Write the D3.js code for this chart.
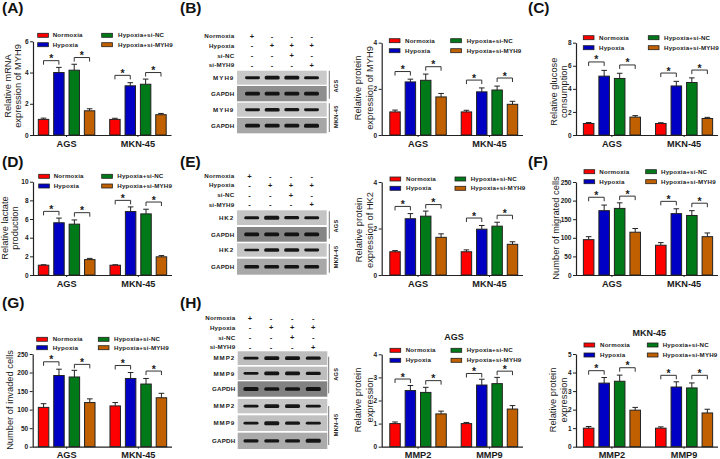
<!DOCTYPE html>
<html><head><meta charset="utf-8">
<script src="https://cdn.jsdelivr.net/npm/d3@7"></script>
<style>
html,body{margin:0;padding:0;background:#fff}
svg{display:block}
text{font-family:"Liberation Sans",Arial,sans-serif;fill:#1a1a1a}
</style></head><body>
<svg id="fig" width="720" height="459"></svg>
<script>
// ---------- shared labels ----------
const seriesNames = ["Normoxia","Hypoxia","Hypoxia+si-NC","Hypoxia+si-MYH9"];
const seriesColors = ["#ff0000","#0000c4","#007a18","#c06000"];
const cellLines = ["AGS","MKN-45"];
const proteins = ["MMP2","MMP9"];
const lightTicks4 = [0,2,4];
const ticks6 = [0,2,4,6];
const ticks8 = [0,2,4,6,8];
const ticks10 = [0,2,4,6,8,10];
const ticks250 = [0,50,100,150,200,250];
const ticks01234 = [0,1,2,3,4];
const ticks012345 = [0,1,2,3,4,5];

// ---------- bar values: [group1 x 4, group2 x 4] ----------
const mrnaValues = [1.0,4.0,4.15,1.55, 1.0,3.15,3.25,1.3];
const mrnaErrors = [.08,.33,.38,.13, .07,.2,.33,.08];
const mrnaBrackets = [4.76,4.96,3.82,4.0];

const myh9Values = [1.0,2.3,2.37,1.65, 1.0,1.87,1.95,1.33];
const myh9Errors = [.08,.12,.27,.15, .07,.17,.17,.13];
const myh9Brackets = [2.75,2.96,2.38,2.47];

const glucoseValues = [1.0,5.1,4.9,1.55, 1.0,4.25,4.55,1.43];
const glucoseErrors = [.08,.5,.45,.13, .06,.4,.4,.1];
const glucoseBrackets = [6.33,6.07,5.37,5.63];

const lactateValues = [1.05,5.6,5.45,1.65, 1.05,6.8,6.55,1.95];
const lactateErrors = [.05,.5,.45,.13, .05,.5,.5,.13];
const lactateBrackets = [6.82,6.68,8.0,7.82];

const hk2Values = [1.0,2.42,2.53,1.62, 1.0,1.97,2.1,1.32];
const hk2Errors = [.05,.22,.22,.15, .08,.16,.17,.11];
const hk2Brackets = [2.95,3.03,2.45,2.57];

const migratedValues = [95,173,179,115, 80,165,160,103];
const migratedErrors = [8,15,15,10, 7,13,13,10];
const migratedBrackets = [209,212,198,193];

const invadedValues = [106,192,188,119, 110,184,169,132];
const invadedErrors = [10,17,18,10, 9,16,15,12];
const invadedBrackets = [229,222,219,204];

const mmpAgsValues = [1.0,2.43,2.35,1.42, 1.0,2.67,2.73,1.63];
const mmpAgsErrors = [.07,.22,.22,.12, .05,.25,.27,.15];
const mmpAgsBrackets = [2.93,2.86,3.17,3.27];

const mmpMknValues = [1.0,3.43,3.53,1.97, 1.0,3.22,3.17,1.82];
const mmpMknErrors = [.09,.3,.33,.15, .07,.28,.27,.2];
const mmpMknBrackets = [4.1,4.26,3.85,3.85];

// ---------- blot tables ----------
const blotTreatments = ["Normoxia","Hypoxia","si-NC","si-MYH9"];
const blotSigns = [["+","-","-","-"],["-","+","+","+"],["-","-","+","-"],["-","-","-","+"]];
const blotB = [
 {name:"MYH9",bands:[.45,.8,.8,.5],tone:"#c9c9c9"},
 {name:"GAPDH",bands:[.8,.8,.8,.8],tone:"#8e8e8e"},
 {name:"MYH9",bands:[.45,.7,.6,.45],tone:"#c9c9c9"},
 {name:"GAPDH",bands:[.8,.8,.8,.85],tone:"#a6a6a6"}];
const blotE = [
 {name:"HK2",bands:[.5,.85,.65,.5],tone:"#c4c4c4"},
 {name:"GAPDH",bands:[.8,.7,.75,.75],tone:"#858585"},
 {name:"HK2",bands:[.4,.75,.65,.45],tone:"#c6c6c6"},
 {name:"GAPDH",bands:[.65,.7,.65,.7],tone:"#a8a8a8"}];
const blotH = [
 {name:"MMP2",bands:[.45,.8,.8,.55],tone:"#bdbdbd"},
 {name:"MMP9",bands:[.4,.75,.75,.55],tone:"#bdbdbd"},
 {name:"GAPDH",bands:[.8,.75,.75,.85],tone:"#828282"},
 {name:"MMP2",bands:[.4,.75,.7,.45],tone:"#c6c6c6"},
 {name:"MMP9",bands:[.4,.85,.65,.45],tone:"#c0c0c0"},
 {name:"GAPDH",bands:[.65,.65,.65,.85],tone:"#ababab"}];

// ---------- layout ----------
const panels = [
 {v:mrnaValues,e:mrnaErrors,b:mrnaBrackets,cats:cellLines,ticks:ticks6,ax:[33,171.5],band:[33,171.5],y:[41.3,135],lx:[37.7,101.7],lty:[35.3,44.7],tx:[52.7,118],yl:[["Relative mRNA",7.3],["expression of MYH9",18]],ylc:86},
 {v:myh9Values,e:myh9Errors,b:myh9Brackets,cats:cellLines,ticks:lightTicks4,ax:[381.7,523],band:[384.5,523],y:[42.7,135],lx:[389.3,450.7],lty:[40.7,50.7],tx:[405,466.7],yl:[["Relative protein",358],["expression of MYH9",369.5]],ylc:88},
 {v:glucoseValues,e:glucoseErrors,b:glucoseBrackets,cats:cellLines,ticks:ticks8,ax:[576,718],band:[578,718],y:[42.7,135],lx:[583.3,648.3],lty:[37.7,47.7],tx:[599,664],yl:[["Relative glucose",553.3],["consumption",564]],ylc:91.7},
 {v:lactateValues,e:lactateErrors,b:lactateBrackets,cats:cellLines,ticks:ticks10,ax:[33,172],band:[33,172],y:[181.7,275],lx:[38.7,101.7],lty:[176.3,186],tx:[53.7,117.3],yl:[["Relative lactate",4.5],["production",14.8]],ylc:228},
 {v:hk2Values,e:hk2Errors,b:hk2Brackets,cats:cellLines,ticks:lightTicks4,ax:[381.7,523],band:[384.5,523],y:[182,275],lx:[390,455],lty:[179,188.3],tx:[406,470.7],yl:[["Relative protein",358.3],["expression of HK2",369.5]],ylc:230},
 {v:migratedValues,e:migratedErrors,b:migratedBrackets,cats:cellLines,ticks:ticks250,ax:[576,718],band:[578,718],y:[182,275],lx:[584,645.7],lty:[171.7,181.7],tx:[599.3,661],yl:[["Number of migrated cells",555.7]],ylc:228},
 {v:invadedValues,e:invadedErrors,b:invadedBrackets,cats:cellLines,ticks:ticks250,ax:[32.7,172],band:[33,172],y:[354,446.7],lx:[36.7,98.3],lty:[339.3,347.7],tx:[52.7,114],yl:[["Number of invaded cells",10]],ylc:400},
 {v:mmpAgsValues,e:mmpAgsErrors,b:mmpAgsBrackets,cats:proteins,ticks:ticks01234,ax:[381.7,523],band:[384.5,523],y:[354.3,446.7],lx:[390,451],lty:[350.3,360.3],tx:[405.7,466.7],yl:[["Relative protein",358],["expression",370]],ylc:400,title:["AGS",454,336.7]},
 {v:mmpMknValues,e:mmpMknErrors,b:mmpMknBrackets,cats:proteins,ticks:ticks012345,ax:[576,718],band:[578,718],y:[354,446.7],lx:[584,647.3],lty:[345,355],tx:[600,662.7],yl:[["Relative protein",552.7],["expression",564]],ylc:400,title:["MKN-45",649.3,333.3]}
];
const blots = [
 {rows:blotB,x:[237,326.7],ry:[[70.7,84.7],[86,101.3],[102.7,116.7],[118,133.3]],lab:[36,45.7,55.7,65],right:234.3,lane:[252.5,311.5],signLane:[252,311.7],lines:[[70.7,98.7,"AGS",86],[103.3,132,"MKN-45",116.7]],lineX:329.3,tagX:335.7},
 {rows:blotE,x:[237,326.7],ry:[[210.3,225],[227,241.7],[243.3,256.7],[258.7,274.7]],lab:[176,185.3,195,204.7],right:234.3,lane:[251.7,311.7],signLane:[249.5,311.7],lines:[[211.3,238.7,"AGS",226],[244,272.7,"MKN-45",257]],lineX:329.3,tagX:335.7},
 {rows:blotH,x:[237.7,327.3],ry:[[351.3,365],[366.7,380],[381.3,396.7],[399,413.3],[415.3,431],[432.7,449]],lab:[318,327.7,337.7,347.3],right:235.3,lane:[251,313.3],signLane:[250,313.3],lines:[[356.7,393.3,"AGS",374.3],[406,445,"MKN-45",425]],lineX:328.7,tagX:335.7}
];
const panelLetters = [["(A)",2,7.7],["(B)",180,7.7],["(C)",528,7.7],["(D)",2,161.7],["(E)",180,161.7],["(F)",528,161.7],["(G)",2,302.5],["(H)",180,302.5]];

// ---------- drawing ----------
const svg = d3.select("#fig");
const defs = svg.append("defs");
defs.append("filter").attr("id","soft").attr("x","-20%").attr("y","-80%").attr("width","140%").attr("height","260%")
  .append("feGaussianBlur").attr("stdDeviation",0.7);
const ink = "#222";

panelLetters.forEach(([t,x,y])=>{
  svg.append("text").attr("x",x).attr("y",y).attr("dy","0.36em").attr("font-size",15.5).attr("font-weight",700).style("fill","#111").text(t);
});

function drawChart(p){
  const g = svg.append("g");
  const color = d3.scaleOrdinal(seriesNames,seriesColors);
  const x0 = d3.scaleBand().domain(p.cats).range(p.band).paddingInner(.14).paddingOuter(.04);
  const x1 = d3.scaleBand().domain(seriesNames).range([0,x0.bandwidth()]).paddingInner(.32).paddingOuter(.16);
  const y = d3.scaleLinear().domain([0,d3.max(p.ticks)]).range([p.y[1],p.y[0]]);
  const rows = p.v.map((v,i)=>({v,e:p.e[i],cat:p.cats[Math.floor(i/4)],s:seriesNames[i%4]}));
  const cx = d=>x0(d.cat)+x1(d.s)+x1.bandwidth()/2;

  g.selectAll("path.err").data(rows).join("path").attr("class","err")
    .attr("d",d=>{const c=cx(d),t=y(d.v+d.e);return `M${c},${y(d.v)}V${t}M${c-2.8},${t}H${c+2.8}`;})
    .attr("fill","none").attr("stroke",ink).attr("stroke-width",1);
  g.selectAll("rect.bar").data(rows).join("rect").attr("class","bar")
    .attr("x",d=>x0(d.cat)+x1(d.s)).attr("width",x1.bandwidth())
    .attr("y",d=>y(d.v)).attr("height",d=>y(0)-y(d.v))
    .attr("fill",d=>color(d.s)).attr("stroke",ink).attr("stroke-width",1);
  const ya = g.append("g").attr("transform",`translate(${p.ax[0]},0)`)
    .call(d3.axisLeft(y).tickValues(p.ticks).tickFormat(d3.format("d")).tickSize(3).tickPadding(1.5).tickSizeOuter(0));
  const xa = g.append("g").attr("transform",`translate(0,${p.y[1]})`)
    .call(d3.axisBottom(x0).tickSize(2).tickPadding(3).tickSizeOuter(0));
  xa.select(".domain").attr("d",`M${p.ax[0]},0.5H${p.ax[1]}`);
  [ya,xa].forEach(a=>{a.select(".domain").attr("stroke",ink).attr("stroke-width",1.2);a.selectAll("line").attr("stroke",ink).attr("stroke-width",1);});
  ya.selectAll("text").attr("font-size",6.5).attr("font-weight",700).attr("font-family",'"Liberation Sans"');
  xa.selectAll("text").attr("font-size",9.2).attr("font-weight",700).attr("font-family",'"Liberation Sans"');

  const pairs = p.cats.flatMap(c=>[[c,0,1],[c,2,3]]);
  pairs.forEach(([c,a,b],i)=>{
    const xa1=x0(c)+x1(seriesNames[a])+x1.bandwidth()/2, xb1=x0(c)+x1(seriesNames[b])+x1.bandwidth()/2, t=y(p.b[i]);
    g.append("path").attr("d",`M${xa1},${t+4}V${t}H${xb1}V${t+4}`).attr("fill","none").attr("stroke","#333").attr("stroke-width",1);
    g.append("text").attr("x",(xa1+xb1)/2).attr("y",t+1.5).attr("text-anchor","middle").attr("font-size",10.5).attr("font-weight",700).text("*");
  });

  const order=[[0,0],[0,1],[1,0],[1,1]];
  seriesNames.forEach((s,i)=>{
    const [col,row]=order[i];
    g.append("rect").attr("x",p.lx[col]).attr("y",p.lty[row]-2).attr("width",10.7).attr("height",4)
      .attr("fill",color(s)).attr("stroke",ink).attr("stroke-width",.8);
    g.append("text").attr("x",p.tx[col]).attr("y",p.lty[row]).attr("dy","0.35em")
      .attr("font-size",6.2).attr("font-weight",700).attr("letter-spacing",.18).text(s);
  });

  p.yl.forEach(([t,x])=>{
    g.append("text").attr("transform",`translate(${x},${p.ylc}) rotate(-90)`).attr("text-anchor","middle")
      .attr("dy","0.35em").attr("font-size",9.3).text(t);
  });
  if(p.title) g.append("text").attr("x",p.title[1]).attr("y",p.title[2]).attr("dy","0.35em").attr("text-anchor","middle")
      .attr("font-size",9).attr("font-weight",700).text(p.title[0]);
}
panels.forEach(drawChart);

function drawBlot(b){
  const g = svg.append("g");
  const lane = d3.scalePoint().domain([0,1,2,3]).range(b.lane);
  const signX = d3.scalePoint().domain([0,1,2,3]).range(b.signLane);
  blotTreatments.forEach((t,i)=>{
    g.append("text").attr("x",b.right).attr("y",b.lab[i]).attr("dy","0.35em").attr("text-anchor","end")
      .attr("font-size",6.2).attr("font-weight",700).attr("letter-spacing",.18).text(t);
    blotSigns[i].forEach((s,j)=>{
      g.append("text").attr("x",signX(j)).attr("y",b.lab[i]).attr("dy","0.35em").attr("text-anchor","middle")
        .attr("font-size",7.5).attr("font-weight",700).text(s);
    });
  });
  b.rows.forEach((r,i)=>{
    const [t,bot]=b.ry[i], mid=(t+bot)/2;
    g.append("rect").attr("x",b.x[0]).attr("y",t).attr("width",b.x[1]-b.x[0]).attr("height",bot-t).attr("fill",r.tone);
    g.selectAll(null).data(r.bands).join("rect")
      .attr("x",(d,j)=>lane(j)-7.5).attr("width",15)
      .attr("y",d=>mid-(.8+d*1.4)).attr("height",d=>1.6+d*2.8).attr("rx",1.5)
      .attr("fill","#0c0c0c").attr("opacity",.95).attr("filter","url(#soft)");
    g.append("text").attr("x",b.right).attr("y",mid).attr("dy","0.35em").attr("text-anchor","end")
      .attr("font-size",6.2).attr("font-weight",700).attr("letter-spacing",r.name==="GAPDH"?.18:1).text(r.name);
  });
  b.lines.forEach(([a,c,t,m])=>{
    g.append("path").attr("d",`M${b.lineX},${a}V${c}`).attr("stroke","#555").attr("stroke-width",.8);
    g.append("text").attr("transform",`translate(${b.tagX},${m}) rotate(-90)`).attr("text-anchor","middle").attr("dy","0.35em")
      .attr("font-size",5.6).attr("font-weight",700).attr("letter-spacing",.3).text(t);
  });
}
blots.forEach(drawBlot);
</script>
</body></html>
